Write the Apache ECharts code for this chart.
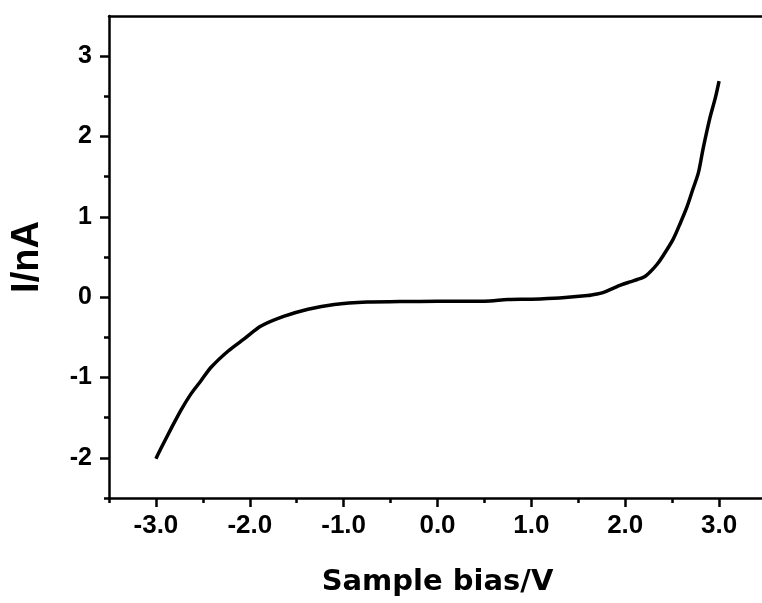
<!DOCTYPE html>
<html>
<head>
<meta charset="utf-8">
<script src="https://cdn.jsdelivr.net/npm/echarts@6/dist/echarts.min.js"></script>
<style>
  html, body { margin: 0; padding: 0; background: #fff; }
  #ivCurve { width: 762px; height: 603px; }
</style>
</head>
<body>
<div id="ivCurve"></div>
<script>
// sample bias (V) and tunnelling current (nA)
var biasV = [-3.0, -2.95, -2.84, -2.73, -2.63, -2.52, -2.41, -2.23, -2.06, -1.88,
  -1.64, -1.38, -1.10, -0.75, -0.40, 0.0, 0.5, 0.75, 1.0, 1.3,
  1.6, 1.7, 1.77, 1.87, 1.95, 2.05, 2.13, 2.20, 2.27, 2.34,
  2.40, 2.51, 2.59, 2.66, 2.72, 2.78, 2.83, 2.90, 2.96, 3.0]
var currentNA = [-2.01, -1.89, -1.64, -1.40, -1.21, -1.04, -0.87, -0.67, -0.52, -0.36,
  -0.24, -0.15, -0.09, -0.06, -0.055, -0.05, -0.05, -0.03, -0.025, -0.01,
  0.02, 0.04, 0.06, 0.11, 0.15, 0.19, 0.22, 0.25, 0.32, 0.41,
  0.51, 0.72, 0.93, 1.13, 1.34, 1.55, 1.85, 2.22, 2.48, 2.69]

// tick positions
var xMajor = [-3, -2, -1, 0, 1, 2, 3]
var xMinor = [-3.5, -2.5, -1.5, -0.5, 0.5, 1.5, 2.5]
var yMajor = [-2, -1, 0, 1, 2, 3]
var yMinor = [-2.5, -1.5, -0.5, 0.5, 1.5, 2.5]

var points = biasV.map(function (v, i) { return [v, currentNA[i]] })

var font = "'Liberation Sans', Arial, sans-serif"
var black = '#000'

var myChart = echarts.init(document.getElementById('ivCurve'))
myChart.setOption({
  animation: false,
  backgroundColor: '#fff',
  grid: {
    left: 109,
    right: -4,
    top: 16,
    bottom: 105,
    containLabel: false,
    outerBoundsMode: 'none'
  },
  xAxis: [{
    // main bottom axis
    type: 'value',
    min: -3.5,
    max: 3.5,
    name: 'Sample bias/V',
    nameLocation: 'middle',
    nameGap: 70,
    nameTextStyle: {
      color: black,
      fontFamily: "'DejaVu Sans', sans-serif",
      fontWeight: 'bold',
      fontSize: 29
    },
    axisLine: { onZero: false, lineStyle: { color: black, width: 2.5 } },
    axisTick: {
      customValues: xMajor,
      length: 9,
      lineStyle: { color: black, width: 2.5 }
    },
    axisLabel: {
      customValues: xMajor,
      margin: 15,
      color: black,
      fontFamily: font,
      fontWeight: 'bold',
      fontSize: 26,
      formatter: function (v) { return v.toFixed(1) }
    },
    splitLine: { show: false }
  }, {
    // minor ticks
    type: 'value',
    position: 'bottom',
    min: -3.5,
    max: 3.5,
    axisLine: { show: false, onZero: false },
    axisTick: {
      customValues: xMinor,
      length: 5,
      lineStyle: { color: black, width: 2.5 }
    },
    axisLabel: { show: false },
    splitLine: { show: false }
  }, {
    // top frame line
    type: 'value',
    position: 'top',
    min: -3.5,
    max: 3.5,
    axisLine: { onZero: false, lineStyle: { color: black, width: 2.5 } },
    axisTick: { show: false },
    axisLabel: { show: false },
    splitLine: { show: false }
  }],
  yAxis: [{
    type: 'value',
    min: -2.5,
    max: 3.5,
    name: 'I/nA',
    nameLocation: 'middle',
    nameGap: 62,
    nameTextStyle: {
      color: black,
      fontFamily: font,
      fontWeight: 'bold',
      fontSize: 38
    },
    axisLine: { onZero: false, lineStyle: { color: black, width: 2.5 } },
    axisTick: {
      customValues: yMajor,
      length: 9,
      lineStyle: { color: black, width: 2.5 }
    },
    axisLabel: {
      customValues: yMajor,
      margin: 17,
      color: black,
      fontFamily: font,
      fontWeight: 'bold',
      fontSize: 25
    },
    splitLine: { show: false }
  }, {
    type: 'value',
    position: 'left',
    min: -2.5,
    max: 3.5,
    axisLine: { show: false, onZero: false },
    axisTick: {
      customValues: yMinor,
      length: 5,
      lineStyle: { color: black, width: 2.5 }
    },
    axisLabel: { show: false },
    splitLine: { show: false }
  }],
  series: [{
    type: 'line',
    xAxisIndex: 0,
    yAxisIndex: 0,
    data: points,
    smooth: 0.3,
    showSymbol: false,
    lineStyle: { color: black, width: 3.5 }
  }]
})
</script>
</body>
</html>
